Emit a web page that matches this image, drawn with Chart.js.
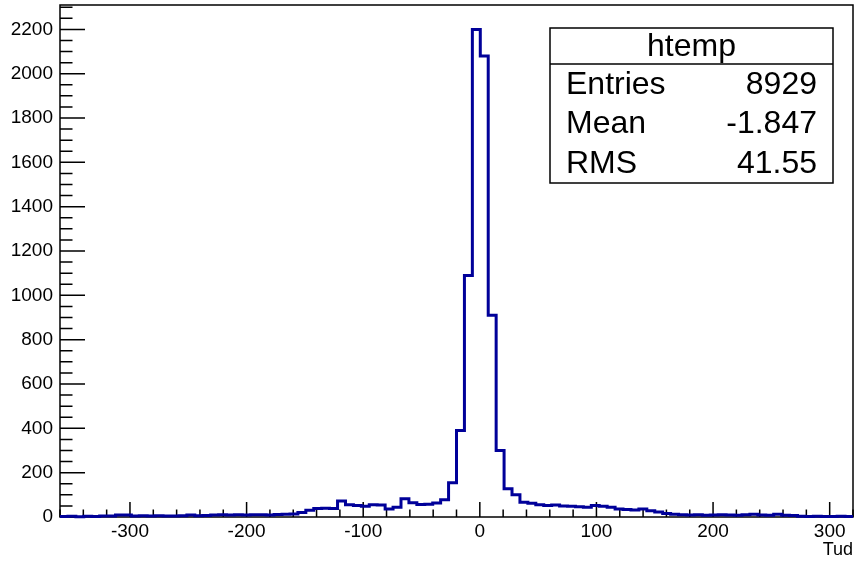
<!DOCTYPE html>
<html>
<head>
<meta charset="utf-8">
<title>htemp</title>
<script src="https://cdn.jsdelivr.net/npm/chart.js@4/dist/chart.umd.min.js"></script>
<style>
    html, body { margin: 0; padding: 0; background: #fff; }
    #plot { display: block; }
</style>
</head>
<body>
<canvas id="plot" width="854" height="563"></canvas>
<script>
// histogram htemp: 100 bins of Tud from -360 to 320
const xMin = -360;
const xMax = 320;
const binWidth = 6.8;
const counts = [
    2, 3, 1, 3, 2, 4, 5, 9, 9, 5,
    6, 5, 6, 4, 5, 6, 9, 6, 7, 9,
    10, 9, 10, 9, 10, 10, 9, 11, 12, 13,
    20, 31, 38, 39, 38, 72, 55, 52, 48, 55,
    54, 36, 44, 82, 64, 56, 58, 63, 78, 155,
    390, 1090, 2200, 2080, 910, 300, 128, 100, 66, 62,
    55, 52, 54, 50, 48, 46, 44, 52, 48, 44,
    36, 34, 32, 36, 28, 22, 16, 12, 10, 9,
    10, 8, 9, 10, 9, 8, 10, 12, 9, 8,
    12, 8, 7, 3, 2, 3, 2, 2, 3, 2
];
const yMax = 2310;
const xMajorStep = 100, xMinorStep = 20;
const yMajorStep = 200, yMinorStep = 50;
const xTitle = 'Tud';
const statsTitle = 'htemp';
const statsRows = [
    ['Entries', '8929'],
    ['Mean', '-1.847'],
    ['RMS', '41.55']
];

const fontFamily = '"Liberation Sans", Arial, Helvetica, sans-serif';
const lineColor = '#000099';

// step points at the low edge of each bin, plus closing edge
const points = counts.map((c, i) => ({x: xMin + i * binWidth, y: c}));
points.push({x: xMax, y: counts[counts.length - 1]});

// ROOT-like frame with inward ticks, and the stats box
const rootFrame = {
    id: 'rootFrame',
    beforeDatasetsDraw(chart) {
        const ctx = chart.ctx;
        const area = chart.chartArea;
        const xs = chart.scales.x;
        const ys = chart.scales.y;
        ctx.save();
        ctx.strokeStyle = '#000';
        ctx.lineWidth = 1.5;
        ctx.strokeRect(area.left, area.top, area.right - area.left, area.bottom - area.top);

        ctx.beginPath();
        for (let v = Math.ceil(xMin / xMinorStep) * xMinorStep; v <= xMax; v += xMinorStep) {
            const px = xs.getPixelForValue(v);
            const len = v % xMajorStep === 0 ? 15 : 7.5;
            ctx.moveTo(px, area.bottom);
            ctx.lineTo(px, area.bottom - len);
        }
        for (let v = 0; v <= yMax; v += yMinorStep) {
            const py = ys.getPixelForValue(v);
            const len = v % yMajorStep === 0 ? 25 : 12.5;
            ctx.moveTo(area.left, py);
            ctx.lineTo(area.left + len, py);
        }
        ctx.stroke();
        ctx.restore();
    },
    afterDraw(chart) {
        const ctx = chart.ctx;
        const left = 550, top = 28, right = 833, bottom = 183, divider = 64;
        ctx.save();
        ctx.fillStyle = '#fff';
        ctx.fillRect(left, top, right - left, bottom - top);
        ctx.strokeStyle = '#000';
        ctx.lineWidth = 1.5;
        ctx.strokeRect(left, top, right - left, bottom - top);
        ctx.beginPath();
        ctx.moveTo(left, divider);
        ctx.lineTo(right, divider);
        ctx.stroke();

        ctx.fillStyle = '#000';
        ctx.font = '32px ' + fontFamily;
        ctx.textBaseline = 'middle';
        ctx.textAlign = 'center';
        ctx.fillText(statsTitle, (left + right) / 2, (top + divider) / 2 + 1);

        const rowH = (bottom - divider) / statsRows.length;
        statsRows.forEach((row, i) => {
            const y = divider + rowH * (i + 0.5) + 1;
            ctx.textAlign = 'left';
            ctx.fillText(row[0], 566, y);
            ctx.textAlign = 'right';
            ctx.fillText(row[1], 817, y);
        });
        ctx.restore();
    }
};

const context = document.getElementById('plot').getContext('2d');
new Chart(context, {
    type: 'line',
    data: {
        datasets: [{
            label: statsTitle,
            data: points,
            stepped: 'before',
            borderColor: lineColor,
            borderWidth: 3,
            pointRadius: 0,
            fill: false,
            clip: false,
        }]
    },
    options: {
        responsive: false,
        animation: false,
        devicePixelRatio: 1,
        layout: {padding: {top: 5, right: 1, left: 0, bottom: 0}},
        plugins: {
            legend: {display: false},
            tooltip: {enabled: false}
        },
        scales: {
            x: {
                type: 'linear',
                min: xMin,
                max: xMax,
                grid: {display: false, drawTicks: false},
                border: {display: false},
                ticks: {
                    stepSize: xMajorStep,
                    includeBounds: false,
                    autoSkip: false,
                    maxRotation: 0,
                    padding: 3,
                    color: '#000',
                    font: {family: fontFamily, size: 19},
                    callback: value => String(value)
                },
                title: {
                    display: true,
                    text: xTitle,
                    align: 'end',
                    color: '#000',
                    font: {family: fontFamily, size: 18},
                    padding: {top: 0, bottom: 2}
                },
                afterFit: scale => {
                    scale.height = 46;
                    scale.paddingLeft = 0;
                    scale.paddingRight = 0;
                }
            },
            y: {
                type: 'linear',
                min: 0,
                max: yMax,
                grid: {display: false, drawTicks: false},
                border: {display: false},
                ticks: {
                    stepSize: yMajorStep,
                    includeBounds: false,
                    autoSkip: false,
                    padding: 7,
                    color: '#000',
                    font: {family: fontFamily, size: 19},
                    callback: value => String(value)
                },
                afterFit: scale => {
                    scale.width = 60;
                    scale.paddingTop = 0;
                    scale.paddingBottom = 0;
                }
            }
        }
    },
    plugins: [rootFrame]
});
</script>
</body>
</html>
